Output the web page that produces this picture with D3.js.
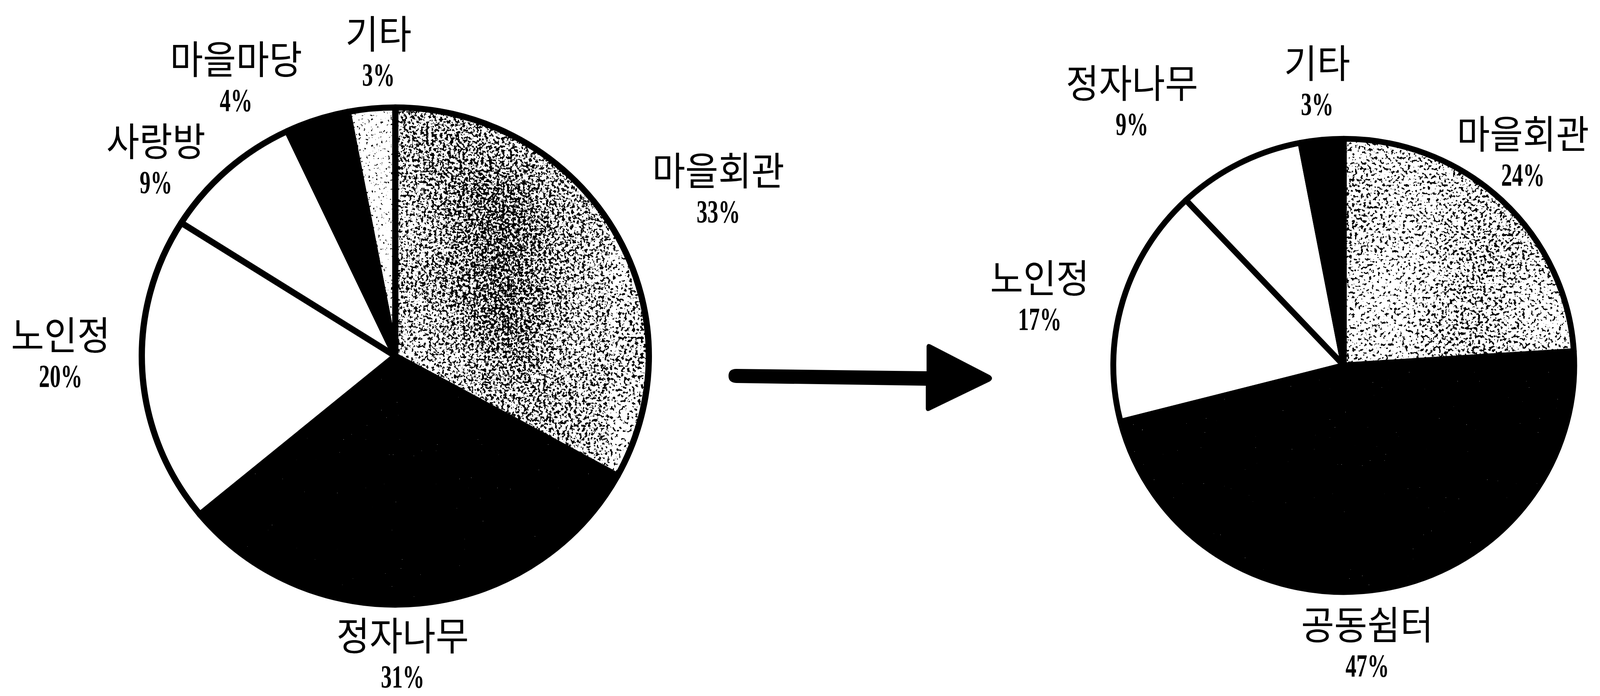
<!DOCTYPE html>
<html><head><meta charset="utf-8">
<script src="https://cdn.jsdelivr.net/npm/d3@7"></script>
<style>html,body{margin:0;padding:0;background:#fff;} svg{display:block}</style>
</head><body>
<svg id="chart" width="4279" height="1781"></svg>
<script>
// ---- data ----
const leftCategories = ["마을회관","정자나무","노인정","사랑방","마을마당","기타"];
const leftValues = [33,31,20,9,4,3];
const rightCategories = ["마을회관","공동쉼터","노인정","정자나무","기타"];
const rightValues = [24,47,17,9,3];

// ---- styles / layout ----
const leftFills = ["stipDense","speck","white","white","black","stipLight"];
const rightFills = ["stipMid","speck","white","white","black"];
// label placement: [radius factor, angle nudge in degrees]
const leftLabelPlace = [[1.43,3.6],[1.185,4],[1.32,3.6],[1.215,-9.6],[1.256,-12],[1.19,2.2]];
const rightLabelPlace = [[1.2,-2.8],[1.22,4.2],[1.35,-3.9],[1.46,-12],[1.225,0]];

const svg = d3.select("#chart");
svg.append("rect").attr("width",4279).attr("height",1781).attr("fill","#fff");
const defs = svg.append("defs");

function grayOf(f, input, result) {
  f.append("feColorMatrix").attr("in",input).attr("type","matrix")
    .attr("values","1 0 0 0 0  1 0 0 0 0  1 0 0 0 0  0 0 0 0 1").attr("result",result);
}
function stippleFilter(id, freq, threshold, seed, lowAmp) {
  const f = defs.append("filter").attr("id", id)
    .attr("x","-5%").attr("y","-5%").attr("width","110%").attr("height","110%")
    .attr("color-interpolation-filters","sRGB");
  f.append("feTurbulence").attr("type","fractalNoise").attr("baseFrequency",freq)
    .attr("numOctaves",2).attr("seed",seed).attr("result","hiRaw");
  grayOf(f,"hiRaw","hi");
  f.append("feTurbulence").attr("type","fractalNoise").attr("baseFrequency",0.004)
    .attr("numOctaves",1).attr("seed",seed+11).attr("result","loRaw");
  grayOf(f,"loRaw","lo");
  f.append("feComposite").attr("in","hi").attr("in2","lo").attr("operator","arithmetic")
    .attr("k1",0).attr("k2",1).attr("k3",lowAmp).attr("k4",-lowAmp*0.5).attr("result","mix");
  const k = 60, b = k*threshold;
  f.append("feColorMatrix").attr("in","mix").attr("type","matrix")
    .attr("values",`${-k} 0 0 0 ${b}  ${-k} 0 0 0 ${b}  ${-k} 0 0 0 ${b}  0 0 0 0 1`).attr("result","dots");
  f.append("feComposite").attr("in","dots").attr("in2","SourceGraphic").attr("operator","in");
}
stippleFilter("stipDense", 0.14, 0.615, 3, 0.25);
stippleFilter("stipMid", 0.14, 0.61, 5, 0.2);
stippleFilter("stipLight", 0.16, 0.70, 9, 0.1);

// sparse white specks on black
(function(){
  const f = defs.append("filter").attr("id","speck")
    .attr("x","-5%").attr("y","-5%").attr("width","110%").attr("height","110%")
    .attr("color-interpolation-filters","sRGB");
  f.append("feTurbulence").attr("type","fractalNoise").attr("baseFrequency",0.3)
    .attr("numOctaves",1).attr("seed",21).attr("result","nRaw");
  const k = 60, t = 0.81;
  f.append("feColorMatrix").attr("in","nRaw").attr("type","matrix")
    .attr("values",`${k} 0 0 0 ${-k*t}  ${k} 0 0 0 ${-k*t}  ${k} 0 0 0 ${-k*t}  0 0 0 0 1`).attr("result","dots");
  f.append("feComposite").attr("in","dots").attr("in2","SourceGraphic").attr("operator","in");
})();

// denser band overlay (soft-edged)
(function(){
  const f = defs.append("filter").attr("id","bandDots")
    .attr("x","-80%").attr("y","-40%").attr("width","260%").attr("height","180%")
    .attr("color-interpolation-filters","sRGB");
  f.append("feTurbulence").attr("type","fractalNoise").attr("baseFrequency",0.15)
    .attr("numOctaves",2).attr("seed",33).attr("result","hiRaw");
  grayOf(f,"hiRaw","hi");
  f.append("feGaussianBlur").attr("in","SourceAlpha").attr("stdDeviation",70).attr("result","bl");
  f.append("feColorMatrix").attr("in","bl").attr("type","matrix")
    .attr("values","0 0 0 1 0  0 0 0 1 0  0 0 0 1 0  0 0 0 0 1").attr("result","blG");
  f.append("feComposite").attr("in","hi").attr("in2","blG").attr("operator","arithmetic")
    .attr("k1",0).attr("k2",1).attr("k3",0.16).attr("k4",0).attr("result","mix");
  const k = 60, t = 0.63;
  f.append("feColorMatrix").attr("in","mix").attr("type","matrix")
    .attr("values",`0 0 0 0 0  0 0 0 0 0  0 0 0 0 0  ${k} 0 0 0 ${-k*t}`);
})();

function fillFor(d) {
  const f = d.data.fill;
  if (f.startsWith("stip")) return "#fff";
  if (f === "speck") return "#000";
  return f;
}

function drawPie(cats, vals, fills, place, cfg, id) {
  const data = cats.map((c,i)=>({name:c, v:vals[i], fill:fills[i], place:place[i]}));
  const arcs = d3.pie().sort(null).value(d=>d.v)(data);
  const arc = d3.arc().innerRadius(0).outerRadius(cfg.r);
  const g = svg.append("g").attr("transform",`translate(${cfg.cx},${cfg.cy}) scale(1,${cfg.ky})`);
  g.selectAll("path.fill").data(arcs).join("path").attr("class","fill")
    .attr("d", arc)
    .attr("fill", fillFor)
    .attr("filter", d => (d.data.fill.startsWith("stip") || d.data.fill === "speck") ? `url(#${d.data.fill})` : null);

  if (cfg.band != null) {
    const a = arcs[cfg.band];
    defs.append("clipPath").attr("id", id + "clip").append("path").attr("d", arc(a));
    const mid = (a.startAngle + a.endAngle) / 2;
    const [bx, by] = d3.pointRadial(mid - 0.05, cfg.r * 0.55);
    g.append("g").attr("clip-path", `url(#${id}clip)`)
      .append("ellipse").attr("cx", bx - 20).attr("cy", by - 60)
      .attr("rx", cfg.r * 0.16).attr("ry", cfg.r * 0.5)
      .attr("fill", "#000").attr("filter", "url(#bandDots)");
  }

  g.selectAll("path.edge").data(arcs).join("path").attr("class","edge")
    .attr("d", arc).attr("fill","none").attr("stroke","#000")
    .attr("stroke-width", cfg.sw).attr("stroke-linejoin","round");

  const lg = svg.append("g");
  arcs.forEach(a => {
    const ang = (a.startAngle + a.endAngle)/2 + a.data.place[1]*Math.PI/180;
    const [px, py] = d3.pointRadial(ang, cfg.r * a.data.place[0]);
    const x = cfg.cx + px, y = cfg.cy + py;
    lg.append("text")
      .attr("transform",`translate(${x},${y - 52 + 36}) scale(0.92,1)`)
      .attr("text-anchor","middle")
      .attr("font-family","'Noto Sans CJK KR', sans-serif")
      .attr("font-size",100).attr("font-weight",400).attr("fill","#000")
      .text(a.data.name);
    lg.append("text")
      .attr("transform",`translate(${x},${y + 52 + 27}) scale(0.68,1)`)
      .attr("text-anchor","middle")
      .attr("font-family","'Liberation Serif', serif")
      .attr("font-size",82).attr("font-weight",700).attr("fill","#000")
      .text(a.data.v + "%");
  });
}

drawPie(leftCategories, leftValues, leftFills, leftLabelPlace, {cx:1012, cy:911, r:649, ky:0.98, sw:16, band:0}, "L");
drawPie(rightCategories, rightValues, rightFills, rightLabelPlace, {cx:3440, cy:935, r:590, ky:0.983, sw:15, band:null}, "R");

// arrow
svg.append("path")
  .attr("d","M 1885 944 L 2372 950 L 2372 886 Q 2374 877 2383 882 L 2534 960 Q 2545 968 2534 976 L 2383 1049 Q 2372 1056 2370 1046 L 2370 987 L 1885 980 Q 1865 979 1865 962 Q 1865 944 1885 944 Z")
  .attr("fill","#000");
</script>
</body></html>
